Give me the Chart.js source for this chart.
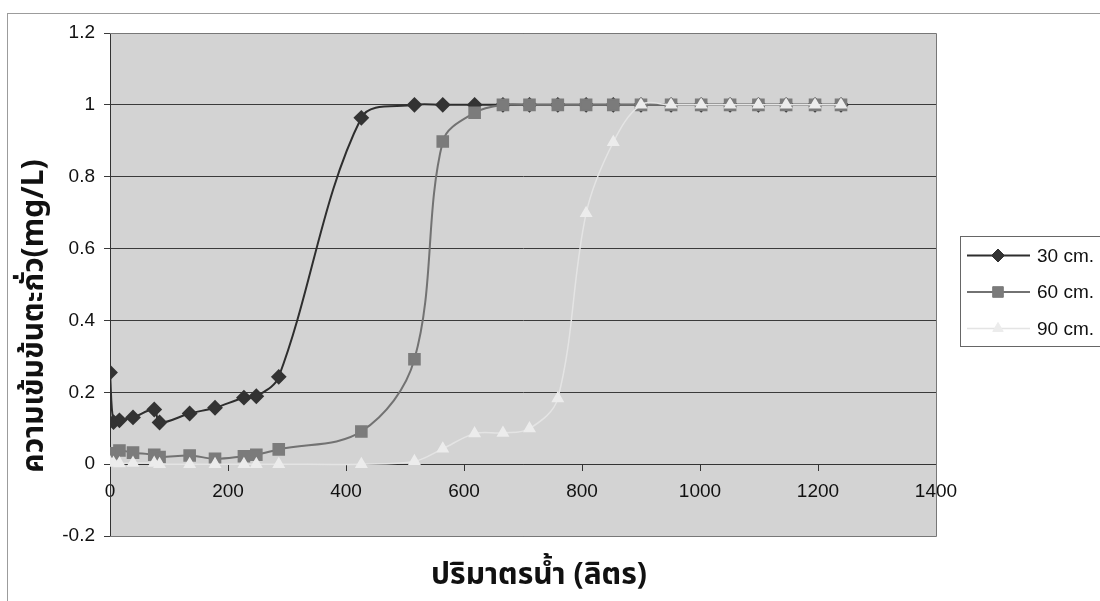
<!DOCTYPE html>
<html>
<head>
<meta charset="utf-8">
<script src="https://cdn.jsdelivr.net/npm/chart.js@4.4.1/dist/chart.umd.min.js"></script>
<style>
  html, body { margin: 0; padding: 0; background: #fff; }
  #wrap { width: 1100px; height: 601px; }
</style>
</head>
<body>
<div id="wrap"><canvas id="chart-1" width="1100" height="601"></canvas></div>
<script>
// water volume (litres) at each sampling
var volume = [0, 6, 16, 39, 75, 84, 135, 178, 227, 248, 286, 426, 516, 564, 618,
  666, 711, 759, 807, 853, 900, 951, 1002, 1051, 1099, 1146, 1195, 1239];

// lead concentration (mg/L) at each depth
var lead30 = [0.255, 0.117, 0.122, 0.13, 0.152, 0.116, 0.141, 0.157, 0.185, 0.189, 0.243,
  0.964, 1.0, 1.0, 1.0, 1.0, 1.0, 1.0, 1.0, 1.0, 1.0, 1.0, 1.0, 1.0, 1.0, 1.0, 1.0, 1.0];
var lead60 = [0.026, 0.03, 0.038, 0.032, 0.026, 0.02, 0.024, 0.015, 0.022, 0.026, 0.041,
  0.091, 0.292, 0.898, 0.978, 1.0, 1.0, 1.0, 1.0, 1.0, 1.0, 1.0, 1.0, 1.0, 1.0, 1.0, 1.0, 1.0];
var lead90 = [0.005, 0.003, 0.002, 0.003, 0.003, 0.0, 0.0, 0.0, 0.0, 0.0, 0.0,
  0.0, 0.008, 0.043, 0.085, 0.087, 0.099, 0.183, 0.698, 0.896, 1.0, 1.0, 1.0, 1.0, 1.0, 1.0, 1.0, 1.0];

var seriesNames = ["30 cm.", "60 cm.", "90 cm."];
var xTicks = [0, 200, 400, 600, 800, 1000, 1200, 1400];
var yTicks = [-0.2, 0, 0.2, 0.4, 0.6, 0.8, 1, 1.2];
var xTitle = "ปริมาตรน้ำ (ลิตร)";
var yTitle = "ความเข้มข้นตะกั่ว(mg/L)";

var tickFont = "'Liberation Sans', Arial, sans-serif";
var thaiFont = "'Noto Sans Thai', 'Noto Sans', 'DejaVu Sans', sans-serif";

function toPoints(values) {
  return values.map(function (v, i) {
    return { x: volume[i], y: v };
  });
}

function setTicks(list) {
  return function (scale) {
    scale.ticks = list.map(function (v) { return { value: v }; });
  };
}

// plain numbers, no thousands separator
function plainLabel(value) {
  return String(value);
}

// plot background, outer frame, axis titles and the boxed legend
var excelFrame = {
  id: "excelFrame",
  beforeDraw: function (chart) {
    var ctx = chart.ctx, a = chart.chartArea;
    ctx.save();
    ctx.fillStyle = "#ffffff";
    ctx.fillRect(0, 0, chart.width, chart.height);
    ctx.strokeStyle = "#9c9c9c";
    ctx.lineWidth = 1;
    ctx.strokeRect(7.5, 13.5, chart.width + 20, chart.height + 20);
    ctx.fillStyle = "#d3d3d3";
    ctx.fillRect(a.left, a.top, a.right - a.left, a.bottom - a.top);
    ctx.restore();
  },
  afterDraw: function (chart) {
    var ctx = chart.ctx, a = chart.chartArea;
    ctx.save();
    // plot area border (top, right, bottom)
    ctx.strokeStyle = "#777777";
    ctx.lineWidth = 1;
    ctx.beginPath();
    ctx.moveTo(a.left, a.top + 0.5);
    ctx.lineTo(a.right + 0.5, a.top + 0.5);
    ctx.lineTo(a.right + 0.5, a.bottom + 0.5);
    ctx.lineTo(a.left, a.bottom + 0.5);
    ctx.stroke();

    // axis titles
    ctx.fillStyle = "#111111";
    ctx.font = "bold 30px " + thaiFont;
    ctx.textAlign = "center";
    ctx.textBaseline = "middle";
    ctx.fillText(xTitle, 539, 578);
    ctx.translate(37, 316);
    ctx.rotate(-Math.PI / 2);
    ctx.fillText(yTitle, 0, 0);
    ctx.setTransform(1, 0, 0, 1, 0, 0);

    // legend
    ctx.strokeStyle = "#666666";
    ctx.strokeRect(960.5, 236.5, 200, 110);
    ctx.font = "19px " + tickFont;
    ctx.textAlign = "left";
    chart.data.datasets.forEach(function (ds, i) {
      var y = 255.5 + i * 36.5;
      ctx.strokeStyle = ds.borderColor;
      ctx.lineWidth = ds.borderWidth;
      ctx.beginPath();
      ctx.moveTo(967, y);
      ctx.lineTo(1030, y);
      ctx.stroke();
      ctx.fillStyle = ds.pointBackgroundColor;
      ctx.strokeStyle = ds.pointBorderColor;
      ctx.lineWidth = 1;
      Chart.helpers.drawPoint(ctx, {
        pointStyle: ds.pointStyle, radius: ds.pointRadius, rotation: 0, borderWidth: 1
      }, 998, y);
      ctx.fillStyle = "#111111";
      ctx.fillText(ds.label, 1037, y + 1);
    });
    ctx.restore();
  }
};

var chartOne = document.getElementById("chart-1").getContext("2d");
var leadChart = new Chart(chartOne, {
  type: "line",
  data: {
    datasets: [
      {
        label: seriesNames[0],
        data: toPoints(lead30),
        borderColor: "#2e2e2e",
        borderWidth: 2,
        pointStyle: "rectRot",
        pointRadius: 6.5,
        pointBackgroundColor: "#333333",
        pointBorderColor: "#333333",
        tension: 0.35,
        order: 2,
      },
      {
        label: seriesNames[1],
        data: toPoints(lead60),
        borderColor: "#727272",
        borderWidth: 2,
        pointStyle: "rect",
        pointRadius: 7.5,
        pointBackgroundColor: "#7b7b7b",
        pointBorderColor: "#7b7b7b",
        tension: 0.35,
        order: 1,
      },
      {
        label: seriesNames[2],
        data: toPoints(lead90),
        borderColor: "#e4e4e4",
        borderWidth: 1.5,
        pointStyle: "triangle",
        pointRadius: 6,
        pointBackgroundColor: "#ececec",
        pointBorderColor: "#ececec",
        tension: 0.35,
        order: 0,
      },
    ],
  },
  options: {
    responsive: false,
    animation: false,
    layout: {
      padding: { top: 33, right: 164, bottom: 65, left: 0 },
    },
    plugins: {
      legend: { display: false },
      tooltip: { enabled: false },
    },
    scales: {
      x: {
        type: "linear",
        min: 0,
        max: 1400,
        position: { y: 0 },
        afterBuildTicks: setTicks(xTicks),
        grid: {
          drawOnChartArea: false,
          drawTicks: true,
          tickLength: 6,
          color: "#333333",
        },
        border: { display: true, color: "#333333", width: 1 },
        ticks: {
          padding: 10,
          color: "#111111",
          font: { family: tickFont, size: 19 },
          maxRotation: 0,
          callback: plainLabel,
        },
      },
      y: {
        type: "linear",
        min: -0.2,
        max: 1.2,
        position: "left",
        afterBuildTicks: setTicks(yTicks),
        afterFit: function (scale) { scale.width = 110; },
        grid: {
          drawOnChartArea: true,
          drawTicks: true,
          tickLength: 6,
          color: "#3a3a3a",
        },
        border: { display: true, color: "#333333", width: 1 },
        ticks: {
          padding: 9,
          color: "#111111",
          font: { family: tickFont, size: 19 },
          callback: plainLabel,
        },
      },
    },
  },
  plugins: [excelFrame],
});
</script>
</body>
</html>
